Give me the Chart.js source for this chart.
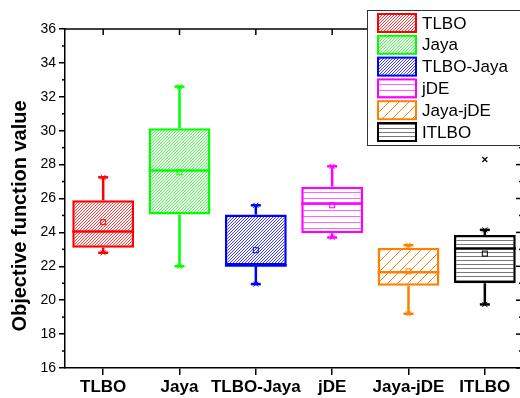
<!DOCTYPE html>
<html>
<head>
<meta charset="utf-8">
<script src="https://cdn.jsdelivr.net/npm/chart.js@4.4.0/dist/chart.umd.min.js"></script>
<style>
html, body { margin: 0; padding: 0; background: #fff; overflow: hidden; }
#wrap { width: 530px; height: 398px; }
</style>
</head>
<body>
<div id="wrap"><canvas id="box-chart" width="530" height="398"></canvas></div>
<script>
// box plot statistics
const categories = ['TLBO', 'Jaya', 'TLBO-Jaya', 'jDE', 'Jaya-jDE', 'ITLBO'];
const minVals    = [22.8, 22.0, 20.95, 23.7, 19.2, 19.75];
const q1Vals     = [23.1, 25.05, 22.05, 23.95, 20.85, 21.0];
const medianVals = [24.05, 27.65, 22.05, 25.7, 21.65, 23.05];
const q3Vals     = [25.9, 30.15, 25.05, 26.7, 23.1, 23.85];
const maxVals    = [27.25, 32.6, 25.6, 27.9, 23.25, 24.15];
const meanVals   = [24.6, 27.55, 22.95, 25.6, 21.7, 22.75];
const outliers   = [[], [], [], [], [], [28.3]];
const yTicks     = [16, 18, 20, 22, 24, 26, 28, 30, 32, 34, 36];

const boxColors = ['#ff0000', '#00ff00', '#0000ff', '#ff00ff', '#ff8000', '#000000'];

const FONT = "'Liberation Sans', Arial, sans-serif";
Chart.defaults.font.family = FONT;
Chart.defaults.color = '#000';

// hatch tiles built pixel by pixel so the colours stay exact
function makePattern(kind, gap, rgb) {
    const size = 20 * gap;
    const c = document.createElement('canvas');
    c.width = size; c.height = size;
    const g = c.getContext('2d');
    const img = g.createImageData(size, size);
    for (let py = 0; py < size; py++) {
        for (let px = 0; px < size; px++) {
            const k = (py * size + px) * 4;
            const on = kind === 'diag' ? (px + py) % gap === 0 : py % gap === 0;
            img.data[k] = on ? rgb[0] : 255;
            img.data[k + 1] = on ? rgb[1] : 255;
            img.data[k + 2] = on ? rgb[2] : 255;
            img.data[k + 3] = 255;
        }
    }
    g.putImageData(img, 0, 0);
    return g.createPattern(c, 'repeat');
}

const patterns = [
    makePattern('diag', 3, [255, 60, 60]),
    makePattern('diag', 3, [70, 255, 70]),
    makePattern('diag', 3, [60, 60, 255]),
    makePattern('horiz', 6, [255, 100, 255]),
    makePattern('diag', 10, [255, 128, 0]),
    makePattern('horiz', 4, [120, 120, 120])
];

function line(ctx, x1, y1, x2, y2) {
    ctx.beginPath();
    ctx.moveTo(x1, y1);
    ctx.lineTo(x2, y2);
    ctx.stroke();
}

function cross(ctx, x, y, s) {
    line(ctx, x - s, y - s, x + s, y + s);
    line(ctx, x - s, y + s, x + s, y - s);
}

// whiskers, medians, means, outliers
const boxExtras = {
    id: 'boxExtras',
    afterDatasetsDraw(chart) {
        const ctx = chart.ctx;
        const x = chart.scales.x, y = chart.scales.y;
        const meta = chart.getDatasetMeta(0);
        ctx.save();
        categories.forEach((cat, i) => {
            const cx = x.getPixelForValue(i);
            const half = meta.data[i].width / 2;
            ctx.strokeStyle = boxColors[i];
            ctx.lineWidth = 2.5;
            const yMax = y.getPixelForValue(maxVals[i]);
            const yMin = y.getPixelForValue(minVals[i]);
            line(ctx, cx, y.getPixelForValue(q3Vals[i]), cx, yMax);
            line(ctx, cx, y.getPixelForValue(q1Vals[i]), cx, yMin);
            line(ctx, cx - 5, yMax, cx + 5, yMax);
            line(ctx, cx - 5, yMin, cx + 5, yMin);
            ctx.lineWidth = 1;
            cross(ctx, cx, yMax, 2.5);
            cross(ctx, cx, yMin, 2.5);
            ctx.lineWidth = 2.5;
            const yMed = y.getPixelForValue(medianVals[i]);
            line(ctx, cx - half, yMed, cx + half, yMed);
            ctx.lineWidth = 1;
            const yMean = y.getPixelForValue(meanVals[i]);
            ctx.strokeRect(cx - 2.5, yMean - 2.5, 5, 5);
            outliers[i].forEach(v => {
                ctx.lineWidth = 1.2;
                cross(ctx, cx, y.getPixelForValue(v), 2.5);
            });
        });
        ctx.restore();
    },
    afterDraw(chart) {
        const ctx = chart.ctx;
        const a = chart.chartArea;
        const x = chart.scales.x, y = chart.scales.y;
        ctx.save();
        ctx.strokeStyle = '#000';
        ctx.lineWidth = 1.5;
        // top and right axes
        line(ctx, a.left, a.top, a.right, a.top);
        line(ctx, a.right, a.top, a.right, a.bottom);
        categories.forEach((c, i) => {
            const px = x.getPixelForValue(i);
            line(ctx, px, a.top, px, a.top + 6);
        });
        for (let v = 16; v <= 36; v++) {
            const py = y.getPixelForValue(v);
            const major = v % 2 === 0;
            if (!major) line(ctx, a.left - 3, py, a.left, py);
            line(ctx, a.right - (major ? 7 : 4), py, a.right, py);
        }
        // y title
        ctx.save();
        ctx.translate(20, 216);
        ctx.rotate(-Math.PI / 2);
        ctx.font = 'bold 20px ' + FONT;
        ctx.fillStyle = '#000';
        ctx.textAlign = 'center';
        ctx.textBaseline = 'middle';
        ctx.fillText('Objective function value', 0, 0);
        ctx.restore();
        // legend
        ctx.fillStyle = '#fff';
        ctx.fillRect(367, 10, 170, 135);
        ctx.lineWidth = 1;
        ctx.strokeStyle = '#333';
        ctx.strokeRect(367.5, 10.5, 170, 135);
        ctx.font = '17px ' + FONT;
        ctx.textBaseline = 'middle';
        ctx.textAlign = 'left';
        categories.forEach((c, i) => {
            const cy = 23 + i * 21.8;
            ctx.fillStyle = patterns[i];
            ctx.fillRect(378, cy - 9, 38, 18);
            ctx.strokeStyle = boxColors[i];
            ctx.lineWidth = 2;
            ctx.strokeRect(378, cy - 9, 38, 18);
            ctx.fillStyle = '#000';
            ctx.fillText(c, 422, cy + 1);
        });
        ctx.restore();
    }
};

new Chart(document.getElementById('box-chart'), {
    type: 'bar',
    data: {
        labels: categories,
        datasets: [{
            data: categories.map((c, i) => [q1Vals[i], q3Vals[i]]),
            backgroundColor: patterns,
            borderColor: boxColors,
            borderWidth: 2.5,
            borderSkipped: false,
            barPercentage: 0.81,
            categoryPercentage: 1
        }]
    },
    options: {
        responsive: false,
        animation: false,
        layout: { padding: { top: 29, right: 7, left: 0, bottom: 0 } },
        plugins: { legend: { display: false }, tooltip: { enabled: false } },
        scales: {
            x: {
                grid: { offset: false, drawOnChartArea: false, tickLength: 7, color: '#000', lineWidth: 1.5 },
                border: { color: '#000', width: 1.5 },
                ticks: { font: { size: 17, weight: 'bold' }, color: '#000', padding: 2, maxRotation: 0, autoSkip: false },
                afterFit(s) { s.height = 30; }
            },
            y: {
                min: 16,
                max: 36,
                afterBuildTicks(s) { s.ticks = yTicks.map(v => ({ value: v })); },
                grid: { drawOnChartArea: false, tickLength: 6, color: '#000', lineWidth: 1.5 },
                border: { color: '#000', width: 1.5 },
                ticks: { font: { size: 14 }, color: '#000', padding: 3 },
                afterFit(s) { s.width = 65; }
            }
        }
    },
    plugins: [boxExtras]
});
</script>
</body>
</html>
